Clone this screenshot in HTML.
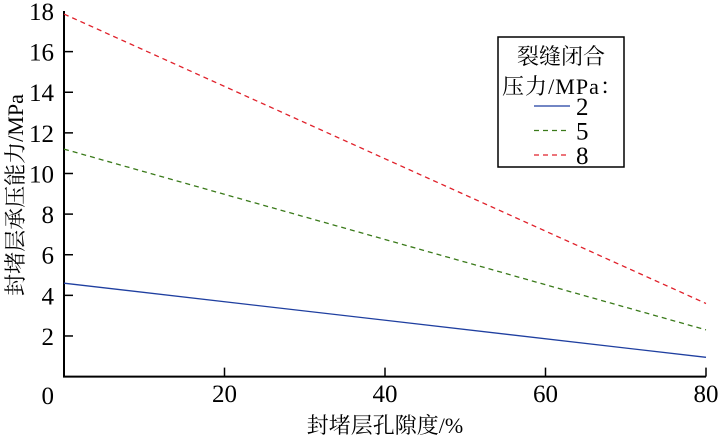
<!DOCTYPE html>
<html><head><meta charset="utf-8"><style>
body{margin:0;background:#fff}
svg text{font-family:"Liberation Serif","Noto Serif CJK SC",serif;fill:#000}
</style></head><body>
<svg width="718" height="440" viewBox="0 0 718 440" xmlns="http://www.w3.org/2000/svg">
<g id="axes"></g>
<g id="series"></g>
<g id="legend">
<rect x="498" y="37" width="126" height="130" fill="#fff" stroke="#000" stroke-width="1.5"/>
<text x="561" y="64" font-size="22" text-anchor="middle">裂缝闭合</text>
<text x="502" y="94" font-size="22" textLength="120">压力/MPa：</text>
</g>
</svg>
<script>
const xTicks=[0,20,40,60,80];
const yTicks=[0,2,4,6,8,10,12,14,16,18];
const xVals=[0,80];
const seriesNames=["2","5","8"];
const s2=[4.6,0.95];
const s5=[11.2,2.3];
const s8=[17.85,3.6];
const colors=["#1f3fa0","#3a7a1a","#e0202a"];
const dashes=["","5,4","5,4"];
const X0=64,X1=706,Y0=376.6,YTOP=11;
const xs=v=>X0+(X1-X0)*v/80;
const ys=v=>Y0-(Y0-YTOP)*v/18;
const NS="http://www.w3.org/2000/svg";
const ax=document.getElementById('axes'),sg=document.getElementById('series'),lg=document.getElementById('legend');
function mk(t,a,p){const e=document.createElementNS(NS,t);for(const k in a)e.setAttribute(k,a[k]);p.appendChild(e);return e;}
let e=mk('path',{d:`M${X0},${YTOP} V${Y0} H${X1}`,fill:'none',stroke:'#000','stroke-width':2},ax);


xTicks.forEach(v=>{
 if(v>0){const t=mk('line',{x1:xs(v),x2:xs(v),y1:Y0,y2:Y0-9,stroke:'#000','stroke-width':1.5},ax);
 
 }
 const l=mk('text',{x:(v===0?xs(v)-16:xs(v)),y:402,'font-size':25,'text-anchor':'middle'},ax);l.textContent=(v===0?'':v);
 
 
});
yTicks.forEach(v=>{
 if(v>0&&v<18){const t=mk('line',{x1:X0,x2:X0+9,y1:ys(v),y2:ys(v),stroke:'#000','stroke-width':1.5},ax);
 
 }
 const l=mk('text',{x:54,y:(v===0?404:ys(v)+9),'font-size':25,'text-anchor':'end'},ax);l.textContent=v;
 
 
});
let xt=mk('text',{x:385,y:433,'font-size':22,'text-anchor':'middle'},ax);xt.textContent='封堵层孔隙度/%';


let yt=mk('text',{x:0,y:0,'font-size':22,'text-anchor':'middle',transform:'translate(23,195) rotate(-90)'},ax);yt.textContent='封堵层承压能力/MPa';


[s2,s5,s8].forEach((s,i)=>{
 const d=s.map((v,j)=>(j?'L':'M')+xs(xVals[j])+','+ys(v)).join(' ');
 const p=mk('path',{d:d,fill:'none',stroke:colors[i],'stroke-width':1.3,'stroke-dasharray':dashes[i]},sg);
 
 
 const ly=106+i*24.5;
 const ll=mk('line',{x1:534,x2:570,y1:ly,y2:ly,stroke:colors[i],'stroke-width':1.3,'stroke-dasharray':dashes[i]},lg);
 
 
 const lt=mk('text',{x:576,y:ly+9,'font-size':25},lg);lt.textContent=seriesNames[i];
 
 
});
</script>
</body></html>
